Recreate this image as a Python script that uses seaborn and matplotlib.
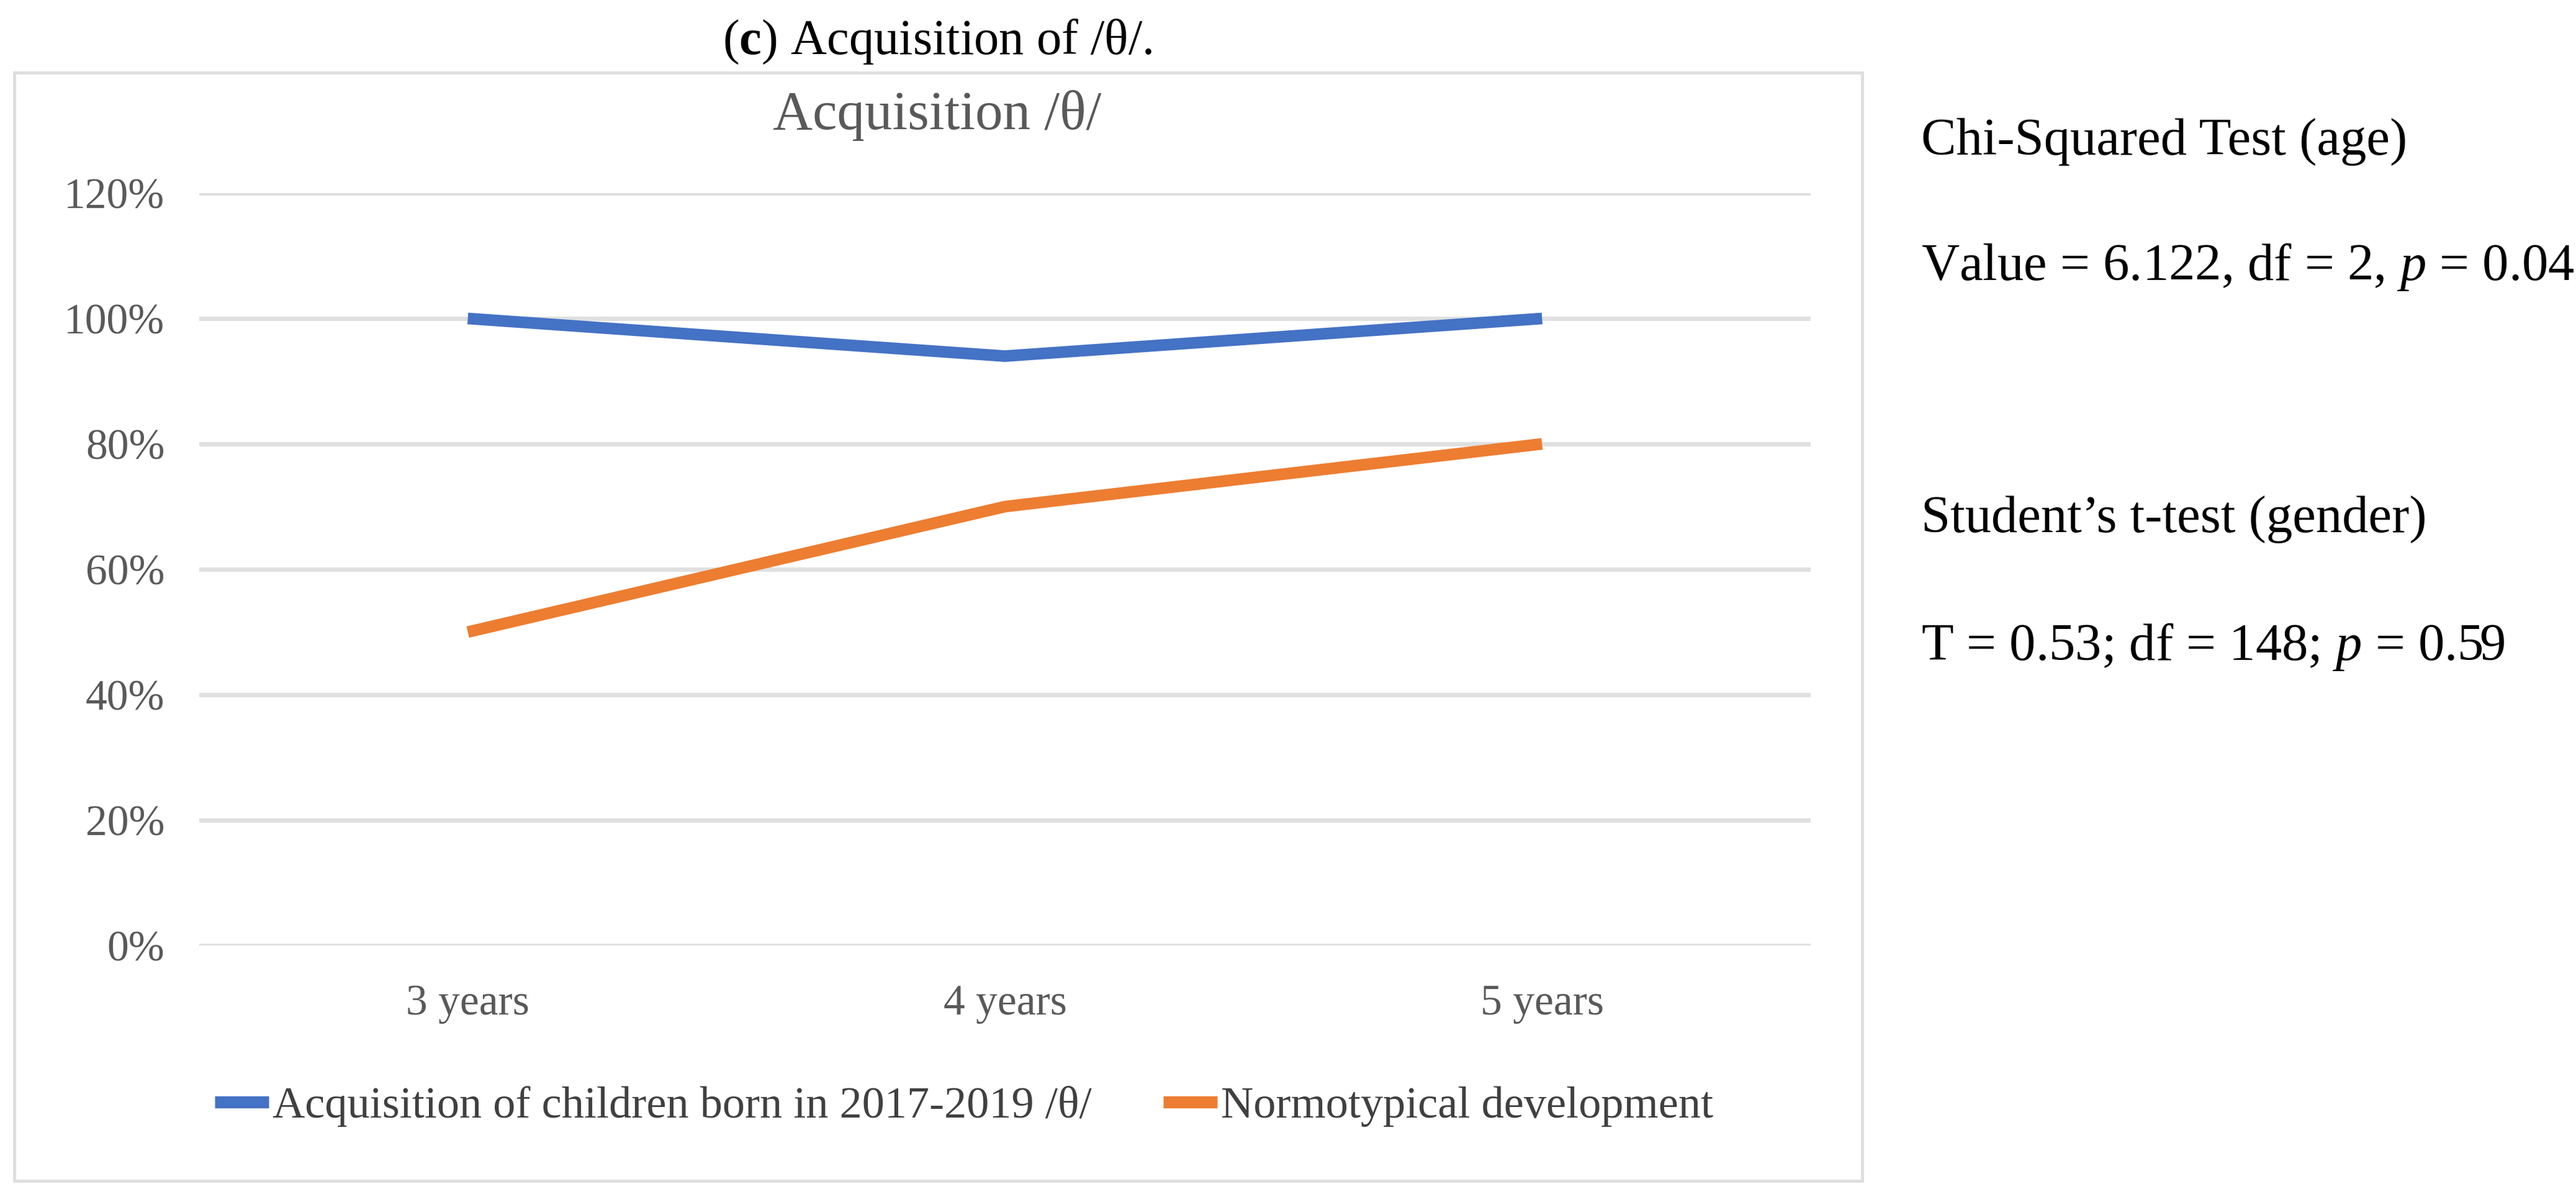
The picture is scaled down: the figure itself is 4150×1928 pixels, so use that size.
import matplotlib
matplotlib.use("Agg")
import matplotlib.pyplot as plt
import seaborn as sns
import pandas as pd
from matplotlib.patches import Rectangle
from matplotlib.lines import Line2D
from matplotlib.ticker import PercentFormatter

# ---- data ----
categories = ["3 years", "4 years", "5 years"]
series_names = ["Acquisition of children born in 2017-2019 /θ/", "Normotypical development"]
acq_values = [1.00, 0.94, 1.00]
norm_values = [0.50, 0.70, 0.80]
y_ticks = [0.0, 0.2, 0.4, 0.6, 0.8, 1.0, 1.2]

caption = r"($\mathbf{c}$) Acquisition of /θ/."
chart_title = "Acquisition /θ/"
side_texts = ["Chi-Squared Test (age)",
              r"Value = 6.122, df = 2, $p$ = 0.04",
              "Student’s t-test (gender)",
              r"T = 0.53; df = 148; $p$ = 0.59"]

df = pd.DataFrame({
    "age": categories * 2,
    "value": acq_values + norm_values,
    "series": [series_names[0]] * 3 + [series_names[1]] * 3,
})

sns.set_theme(style="white")
plt.rcParams["font.family"] = ["Liberation Serif", "DejaVu Serif"]
plt.rcParams["mathtext.fontset"] = "custom"
plt.rcParams["mathtext.rm"] = "Liberation Serif"
plt.rcParams["mathtext.it"] = "Liberation Serif:italic"
plt.rcParams["mathtext.bf"] = "Liberation Serif:bold"

W, H = 4150, 1928
fig = plt.figure(figsize=(W / 100, H / 100), dpi=100)
fig.patch.set_facecolor("white")

# chart box border
fig.patches.append(Rectangle((23 / W, 1 - 1902 / H), (3000 - 23) / W, (1902 - 117) / H,
                             transform=fig.transFigure, fill=False,
                             edgecolor="#DEDEDE", linewidth=3.5, zorder=0))

ax = fig.add_axes([321 / W, 1 - 1523 / H, (2917 - 321) / W, (1523 - 311) / H])
colors = {series_names[0]: "#4472C4", series_names[1]: "#ED7D31"}
sns.lineplot(data=df, x="age", y="value", hue="series", palette=colors,
             linewidth=13.5, ax=ax, legend=False, sort=False)
for ln in ax.lines:
    ln.set_solid_capstyle("butt")
    ln.set_solid_joinstyle("miter")

ax.set_xlim(-0.5, 2.5)
ax.set_ylim(0, 1.2)
ax.set_yticks(y_ticks)
ax.yaxis.set_major_formatter(PercentFormatter(1.0, decimals=0))
ax.grid(axis="y", color="#E0E0E0", linewidth=5)
ax.set_axisbelow(True)
for s in ax.spines.values():
    s.set_visible(False)
ax.set_xlabel("")
ax.set_ylabel("")
ax.tick_params(axis="y", length=0, pad=40, labelsize=50, labelcolor="#595959")
ax.tick_params(axis="x", length=0, pad=45, labelsize=50, labelcolor="#595959")

# titles
fig.text(1510 / W, 1 - 87 / H, caption, ha="center", va="baseline", fontsize=58, color="black")
fig.text(1510 / W, 1 - 208 / H, chart_title, ha="center", va="baseline", fontsize=64, color="#595959")

# legend
handles = [Line2D([0], [0], color=colors[n], linewidth=14, solid_capstyle="butt") for n in series_names]
fig.legend(handles, series_names, loc="center", bbox_to_anchor=(1553 / W, 1 - 1782 / H),
           ncol=2, frameon=False, fontsize=52, handlelength=1.2, handletextpad=0.08,
           columnspacing=1.6, labelcolor="#404040")

# side texts
ys = [249, 451, 857, 1063]
for t, y in zip(side_texts, ys):
    fig.text(3095 / W, 1 - y / H, t, ha="left", va="baseline", fontsize=61, color="black")

fig.savefig("out.png", dpi=100, facecolor="white")
